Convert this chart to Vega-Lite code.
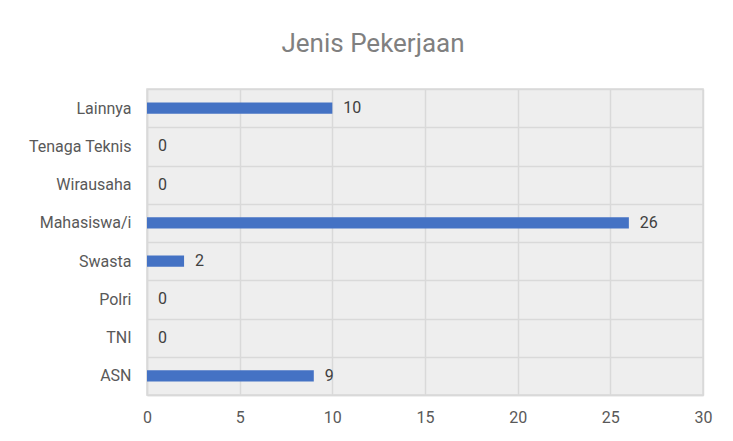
{
  "$schema": "https://vega.github.io/schema/vega-lite/v6.json",
  "width": 556,
  "height": 306,
  "autosize": "none",
  "padding": {"left": 147, "top": 89, "right": 30, "bottom": 46},
  "background": "white",
  "title": {"text": "Jenis Pekerjaan", "font": "Roboto, sans-serif", "fontSize": 26, "fontWeight": "normal", "color": "#808080", "dx": -52, "offset": 24},
  "config": {
    "view": {"fill": "#eeeeee", "stroke": "#d9d9d9", "strokeWidth": 1.5}
  },
  "data": {"values": [
    {"pekerjaan": "Lainnya", "jumlah": 10},
    {"pekerjaan": "Tenaga Teknis", "jumlah": 0},
    {"pekerjaan": "Wirausaha", "jumlah": 0},
    {"pekerjaan": "Mahasiswa/i", "jumlah": 26},
    {"pekerjaan": "Swasta", "jumlah": 2},
    {"pekerjaan": "Polri", "jumlah": 0},
    {"pekerjaan": "TNI", "jumlah": 0},
    {"pekerjaan": "ASN", "jumlah": 9}
  ]},
  "encoding": {
    "y": {"field": "pekerjaan", "type": "nominal", "sort": null,
      "scale": {"paddingInner": 0, "paddingOuter": 0},
      "axis": {"title": null, "tickBand": "extent", "ticks": false, "grid": true, "gridColor": "#d9d9d9", "gridWidth": 1.5, "domain": true, "domainColor": "#d9d9d9", "domainWidth": 1.5, "labelPadding": 16, "labelFont": "Roboto, sans-serif", "labelFontSize": 16, "labelColor": "#595959"}},
    "x": {"field": "jumlah", "type": "quantitative", "scale": {"domain": [0, 30], "nice": false},
      "axis": {"title": null, "values": [0, 5, 10, 15, 20, 25, 30], "labelFlush": false, "ticks": false, "grid": true, "gridColor": "#d9d9d9", "gridWidth": 1.5, "domain": true, "domainColor": "#d9d9d9", "domainWidth": 1.5, "labelPadding": 14, "labelFont": "Roboto, sans-serif", "labelFontSize": 16, "labelColor": "#595959"}}
  },
  "layer": [
    {"mark": {"type": "bar", "color": "#4472C4", "height": {"band": 0.29}}},
    {"mark": {"type": "text", "align": "left", "baseline": "middle", "dx": 11, "font": "Roboto, sans-serif", "fontSize": 16, "color": "#404040"},
     "encoding": {"text": {"field": "jumlah", "type": "quantitative"}}}
  ]
}
